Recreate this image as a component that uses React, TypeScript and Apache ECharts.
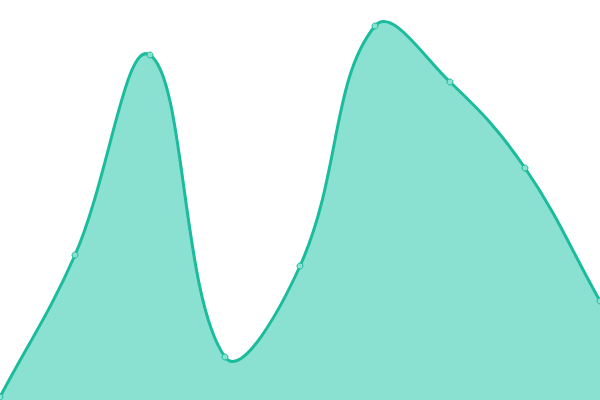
import React, { useEffect, useRef } from 'react';
import * as echarts from 'echarts';

// x positions are evenly spaced (0..100 scale)
const categories = ['1', '2', '3', '4', '5', '6', '7', '8', '9'];
const values = [0.75, 36.25, 86.25, 10.75, 33.5, 93.5, 79.5, 58, 24.75];

const SMOOTH = 0.4;

// unclamped cardinal-style smoothing (the curve may overshoot the points)
function buildPath(pts: number[][]) {
  const n = pts.length;
  const cps: number[][] = []; // [inX, inY, outX, outY] per point
  for (let i = 0; i < n; i++) {
    const [x, y] = pts[i];
    const [px, py] = pts[Math.max(0, i - 1)];
    const [nx, ny] = pts[Math.min(n - 1, i + 1)];
    const vx = nx - px, vy = ny - py;
    const lp = Math.hypot(x - px, y - py);
    const ln = Math.hypot(nx - x, ny - y);
    const r = ln / (ln + lp);
    cps.push([x - vx * SMOOTH * (1 - r), y - vy * SMOOTH * (1 - r), x + vx * SMOOTH * r, y + vy * SMOOTH * r]);
  }
  let d = `M${pts[0][0]},${pts[0][1]}`;
  for (let i = 1; i < n; i++) {
    d += `C${cps[i - 1][2]},${cps[i - 1][3]},${cps[i][0]},${cps[i][1]},${pts[i][0]},${pts[i][1]}`;
  }
  return d;
}

export default function App() {
  const ref = useRef<HTMLDivElement>(null);
  useEffect(() => {
    if (!ref.current) return;
    const chart = echarts.init(ref.current, null, { renderer: 'svg' });
    chart.setOption({
      animation: false,
      grid: { left: 0, right: 0, top: 0, bottom: 0 },
      xAxis: { type: 'category', data: categories, boundaryGap: false, show: false },
      yAxis: { type: 'value', min: 0, max: 100, show: false },
      series: [
        {
          type: 'custom',
          clip: false,
          data: [[0, 0]],
          renderItem: (params: any, api: any) => {
            const pts = values.map((v, i) => api.coord([i, v]));
            const line = buildPath(pts);
            const base = api.coord([0, 0])[1];
            const first = pts[0], last = pts[pts.length - 1];
            const area = `${line}L${last[0]},${base}L${first[0]},${base}Z`;
            return {
              type: 'group',
              children: [
                { type: 'path', shape: { pathData: area }, style: { fill: '#8ae0d1', stroke: 'none' } },
                { type: 'path', shape: { pathData: line }, style: { fill: 'none', stroke: '#1abc9c', lineWidth: 3 } }
              ]
            };
          }
        },
        {
          type: 'line',
          data: values,
          symbol: 'circle',
          symbolSize: 6,
          lineStyle: { width: 0, opacity: 0 },
          itemStyle: { color: '#8ae0d1', borderColor: '#1abc9c', borderWidth: 1 }
        }
      ]
    });
    return () => { chart.dispose(); };
  }, []);
  return <div ref={ref} style={{ position: 'fixed', left: 0, top: 0, width: '600px', height: '400px' }} />;
}
